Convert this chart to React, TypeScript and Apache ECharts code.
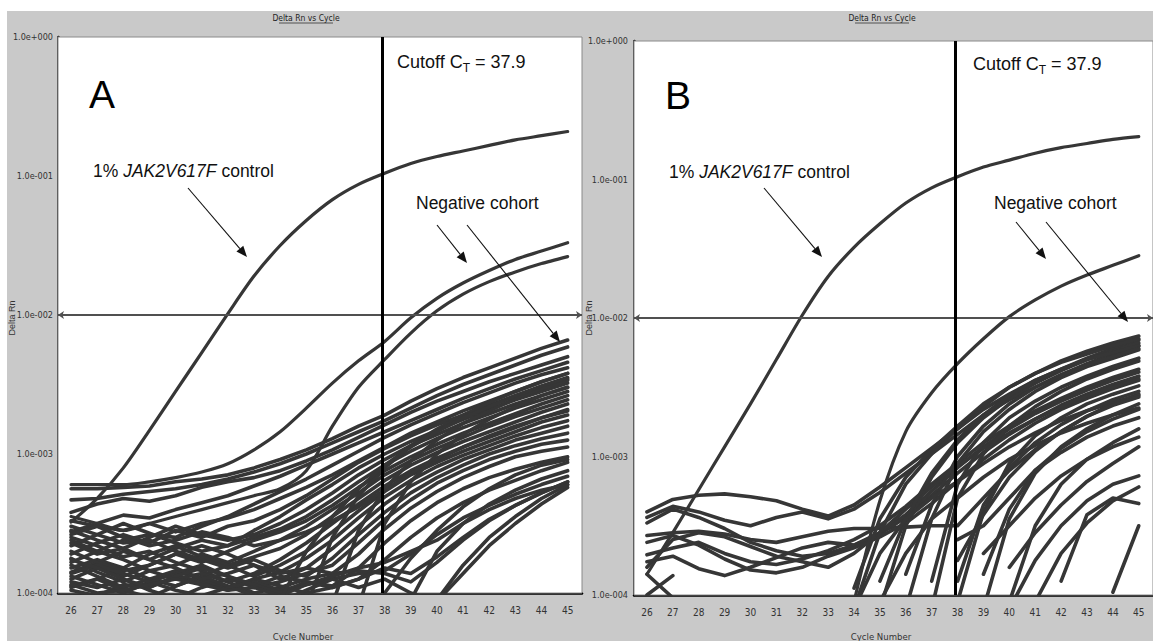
import React, { useEffect, useRef } from "react";
import * as echarts from "echarts";

const _ = null;
type Row = (number | null)[];

// x categories (cycle numbers) and fixed reference values
const cycles = [26, 27, 28, 29, 30, 31, 32, 33, 34, 35, 36, 37, 38, 39, 40, 41, 42, 43, 44, 45];
const cutoffCycle = 37.9;
const thresholdA = 0.0081;
const thresholdB = 0.0081;
const yMin = 1e-4;
const yMax = 1;

// All curves: log10(Delta Rn), one value per cycle 26..45 (null = not drawn)
const controlA: Row = [-3.49, -3.32, -3.1, -2.83, -2.55, -2.27, -1.99, -1.72, -1.5, -1.32, -1.17, -1.06, -0.98, -0.91, -0.86, -0.82, -0.78, -0.74, -0.71, -0.68];
const highCohortA: Row[] = [
  [-3.22, -3.22, -3.22, -3.2, -3.17, -3.13, -3.07, -2.97, -2.84, -2.67, -2.49, -2.33, -2.19, -2.02, -1.88, -1.77, -1.68, -1.6, -1.54, -1.48],
  [-3.45, -3.5, -3.55, -3.5, -3.45, -3.4, -3.35, -3.3, -3.25, -3.12, -2.8, -2.52, -2.32, -2.13, -1.97, -1.85, -1.76, -1.69, -1.63, -1.58],
];
const negativeA: Row[] = [
  [-3.25, -3.25, -3.24, -3.23, -3.2, -3.18, -3.15, -3.1, -3.04, -2.97, -2.89, -2.8, -2.72, -2.62, -2.53, -2.45, -2.38, -2.31, -2.24, -2.18],
  [-3.33, -3.32, -3.29, -3.27, -3.25, -3.22, -3.18, -3.13, -3.07, -3.0, -2.92, -2.84, -2.76, -2.67, -2.58, -2.5, -2.43, -2.36, -2.29, -2.23],
  [-3.42, -3.36, -3.32, -3.34, -3.3, -3.24, -3.2, -3.17, -3.12, -3.05, -2.97, -2.88, -2.79, -2.7, -2.62, -2.55, -2.48, -2.42, -2.36, -2.3],
  [-3.56, -3.5, -3.44, -3.46, -3.4, -3.35, -3.3, -3.23, -3.16, -3.08, -3.0, -2.92, -2.84, -2.76, -2.68, -2.6, -2.53, -2.46, -2.4, -2.34],
  [-3.62, -3.7, -3.62, -3.58, -3.6, -3.52, -3.45, -3.36, -3.27, -3.18, -3.08, -2.98, -2.88, -2.79, -2.71, -2.63, -2.56, -2.49, -2.43, -2.38],
  [-3.48, -3.52, -3.55, -3.5, -3.56, -3.5, -3.46, -3.4, -3.32, -3.24, -3.15, -3.05, -2.95, -2.85, -2.77, -2.69, -2.62, -2.55, -2.48, -2.42],
  [-3.72, -3.64, -3.58, -3.64, -3.55, -3.6, -3.52, -3.48, -3.4, -3.3, -3.18, -3.06, -2.96, -2.87, -2.79, -2.72, -2.65, -2.58, -2.52, -2.46],
  [-3.85, -3.78, -3.7, -3.76, -3.68, -3.62, -3.66, -3.55, -3.45, -3.33, -3.22, -3.1, -3.0, -2.91, -2.83, -2.75, -2.68, -2.61, -2.55, -2.49],
  [-3.55, -3.62, -3.68, -3.6, -3.52, -3.58, -3.62, -3.58, -3.5, -3.4, -3.28, -3.15, -3.04, -2.94, -2.86, -2.78, -2.71, -2.64, -2.58, -2.52],
  [-3.66, -3.58, -3.5, -3.57, -3.64, -3.7, -3.66, -3.6, -3.54, -3.45, -3.33, -3.2, -3.08, -2.98, -2.89, -2.81, -2.74, -2.67, -2.61, -2.55],
  [-3.9, -3.82, -3.88, -3.8, -3.72, -3.78, -3.7, -3.62, -3.56, -3.48, -3.37, -3.24, -3.12, -3.02, -2.93, -2.85, -2.78, -2.71, -2.64, -2.58],
  [-3.75, -3.85, -3.92, -3.84, -3.8, -3.72, -3.78, -3.7, -3.62, -3.52, -3.4, -3.28, -3.15, -3.05, -2.96, -2.88, -2.8, -2.73, -2.67, -2.61],
  [-3.95, -3.9, -3.82, -3.9, -3.95, -3.88, -3.8, -3.74, -3.68, -3.58, -3.45, -3.32, -3.19, -3.08, -2.99, -2.91, -2.84, -2.77, -2.7, -2.64],
  [-3.6, -3.66, -3.74, -3.7, -3.78, -3.84, -3.92, -3.86, -3.76, -3.64, -3.5, -3.36, -3.23, -3.12, -3.03, -2.95, -2.88, -2.81, -2.74, -2.68],
  [-3.82, -3.76, -3.82, -3.72, -3.66, -3.74, -3.8, -3.88, -3.8, -3.7, -3.56, -3.41, -3.27, -3.15, -3.06, -2.98, -2.91, -2.84, -2.77, -2.72],
  [-3.98, -4.02, -3.94, -3.96, -3.88, -3.92, -3.98, -3.9, -3.85, -3.75, -3.62, -3.46, -3.31, -3.19, -3.09, -3.01, -2.94, -2.87, -2.81, -2.76],
  [-3.7, -3.78, -3.84, -3.8, -3.72, -3.66, -3.72, -3.8, -3.9, -3.82, -3.68, -3.52, -3.36, -3.23, -3.13, -3.04, -2.97, -2.9, -2.85, -2.8],
  [-3.52, -3.58, -3.64, -3.62, -3.7, -3.76, -3.82, -3.76, -3.84, -3.88, -3.75, -3.58, -3.42, -3.28, -3.17, -3.08, -3.0, -2.94, -2.89, -2.85],
  [-3.88, -3.94, -4.0, -3.92, -3.86, -3.8, -3.88, -3.96, -3.92, -3.86, -3.8, -3.64, -3.47, -3.33, -3.21, -3.12, -3.04, -2.98, -2.93, -2.9],
  [-3.78, -3.7, -3.76, -3.84, -3.9, -3.86, -3.92, -4.0, -3.96, -3.9, -3.86, -3.72, -3.54, -3.39, -3.27, -3.17, -3.09, -3.02, -2.98, -2.95],
  [-3.92, -3.96, -3.9, -3.98, -4.04, -3.96, -3.9, -3.95, -3.88, -3.92, -3.95, -3.82, -3.64, -3.48, -3.35, -3.25, -3.17, -3.11, -3.06, -3.02],
  [-3.8, -3.88, -3.96, -3.9, -3.84, -3.9, -3.96, -3.9, -3.95, -4.0, -3.96, -3.9, -3.76, -3.6, -3.46, -3.35, -3.26, -3.19, -3.12, -3.06],
  [-3.96, -3.9, -3.98, -4.03, -3.95, -3.88, -3.95, -4.02, -4.06, -3.98, -3.9, -3.86, -3.84, -3.72, -3.58, -3.46, -3.37, -3.29, -3.22, -3.16],
  [-3.64, -3.72, -3.68, -3.76, -3.82, -3.9, -3.86, -3.8, -3.86, -3.82, -3.86, -3.84, -3.86, -3.92, -3.78, -3.62, -3.48, -3.37, -3.28, -3.2],
  [-3.86, -3.8, -3.86, -3.92, -3.98, -4.02, -3.96, -3.92, -3.98, -3.94, -3.9, -3.96, -3.9, -4.0, -4.06, -3.86, -3.66, -3.5, -3.36, -3.24],
  [-3.76, -3.82, -3.9, -3.96, -3.88, -3.82, -3.88, -3.94, -4.0, -3.92, -3.96, -3.9, -3.82, -3.86, -3.74, -3.6, -3.47, -3.37, -3.28, -3.2],
  [-3.94, -4.0, -3.98, -3.94, -3.9, -3.94, -3.98, -3.96, -4.02, -3.94, -3.88, -3.82, -3.78, -3.7, -3.62, -3.5, -3.4, -3.32, -3.26, -3.22],
  [-3.58, -3.52, -3.6, -3.66, -3.62, -3.56, -3.6, -3.66, -3.62, -3.56, -3.48, -3.38, -3.26, -3.14, -3.04, -2.95, -2.87, -2.8, -2.74, -2.69],
  [_, _, _, _, _, _, _, _, _, -4.1, -3.6, -3.3, -3.1, -2.94, -2.82, -2.72, -2.63, -2.55, -2.48, -2.42],
  [_, _, _, _, _, _, _, _, _, _, -4.08, -3.55, -3.25, -3.05, -2.9, -2.78, -2.69, -2.6, -2.53, -2.47],
  [_, _, _, _, _, _, _, _, _, _, _, -4.1, -3.5, -3.2, -3.0, -2.86, -2.75, -2.66, -2.58, -2.52],
  [_, _, _, _, _, _, _, _, -4.05, -3.7, -3.45, -3.25, -3.08, -2.95, -2.84, -2.74, -2.66, -2.58, -2.51, -2.45],
  [_, _, _, _, _, _, _, _, _, _, _, _, _, -4.05, -3.7, -3.5, -3.36, -3.26, -3.18, -3.12],
  [_, _, _, _, _, _, _, _, _, _, _, _, _, _, -4.05, -3.8, -3.6, -3.45, -3.32, -3.22],
  [_, _, _, _, _, _, _, _, _, _, _, _, -4.0, -3.75, -3.55, -3.38, -3.25, -3.15, -3.08, -3.04],
];

const controlB: Row = [-3.85, -3.55, -3.24, -2.93, -2.62, -2.3, -1.98, -1.7, -1.49, -1.32, -1.17, -1.06, -0.98, -0.91, -0.86, -0.81, -0.77, -0.74, -0.71, -0.69];
const highCohortB: Row[] = [
  [_, _, _, _, _, _, _, _, -4.05, -3.32, -2.82, -2.54, -2.33, -2.15, -1.99, -1.87, -1.77, -1.69, -1.62, -1.55],
];
const negativeB: Row[] = [
  [-3.4, -3.31, -3.28, -3.27, -3.29, -3.32, -3.38, -3.43, -3.35, -3.22, -3.08, -2.94, -2.8, -2.66, -2.55, -2.45, -2.37, -2.29, -2.22, -2.16],
  [-3.44, -3.36, -3.4, -3.46, -3.5, -3.44, -3.4, -3.45, -3.38, -3.26, -3.12, -2.98, -2.84, -2.7, -2.59, -2.5, -2.41, -2.33, -2.26, -2.2],
  [-3.57, -3.55, -3.54, -3.56, -3.6, -3.62, -3.58, -3.54, -3.52, -3.52, -3.51, -3.5, -3.5, -3.3, -3.1, -2.95, -2.82, -2.71, -2.62, -2.55],
  [-3.71, -3.66, -3.62, -3.7, -3.76, -3.78, -3.74, -3.68, -3.6, -3.5, -3.36, -3.2, -3.05, -2.9, -2.78, -2.67, -2.58, -2.5, -2.43, -2.37],
  [-3.76, -3.72, -3.81, -3.86, -3.8, -3.73, -3.66, -3.62, -3.64, -3.56, -3.44, -3.28, -3.12, -2.97, -2.84, -2.73, -2.63, -2.55, -2.48, -2.42],
  [-3.48, -3.38, -3.44, -3.52, -3.62, -3.68, -3.72, -3.7, -3.64, -3.55, -3.42, -3.25, -3.08, -2.93, -2.8, -2.69, -2.6, -2.52, -2.45, -2.39],
  [-3.62, -3.57, -3.64, -3.74, -3.82, -3.84, -3.8, -3.72, -3.66, -3.58, -3.48, -3.34, -3.18, -3.02, -2.88, -2.76, -2.66, -2.58, -2.51, -2.45],
  [-3.8, -3.6, -3.55, -3.58, -3.65, -3.72, -3.76, -3.8, -3.7, -3.55, -3.38, -3.22, -3.07, -2.94, -2.83, -2.73, -2.64, -2.56, -2.5, -2.44],
  [-3.85, -4.02, _, _, _, _, _, _, _, _, _, _, _, _, _, _, _, _, _, _],
  [-4.0, -3.86, _, _, _, _, _, _, _, _, _, _, _, _, _, _, _, _, _, _],
  [_, _, _, _, _, _, _, _, -4.1, -3.55, -3.2, -2.98, -2.8, -2.64, -2.5, -2.4, -2.31, -2.24, -2.18, -2.13],
  [_, _, _, _, _, _, _, _, -3.95, -3.45, -3.15, -2.95, -2.78, -2.62, -2.5, -2.4, -2.32, -2.26, -2.2, -2.15],
  [_, _, _, _, _, _, _, _, _, -4.1, -3.5, -3.15, -2.9, -2.72, -2.58, -2.47, -2.38, -2.3, -2.24, -2.18],
  [_, _, _, _, _, _, _, _, _, -3.9, -3.45, -3.12, -2.88, -2.7, -2.56, -2.45, -2.37, -2.3, -2.25, -2.2],
  [_, _, _, _, _, _, _, _, _, _, -4.1, -3.45, -3.05, -2.82, -2.66, -2.53, -2.43, -2.35, -2.29, -2.23],
  [_, _, _, _, _, _, _, _, _, _, -3.85, -3.35, -3.0, -2.78, -2.62, -2.5, -2.41, -2.34, -2.28, -2.22],
  [_, _, _, _, _, _, _, _, _, _, _, -4.1, -3.3, -2.98, -2.78, -2.64, -2.53, -2.44, -2.37, -2.31],
  [_, _, _, _, _, _, _, _, _, _, _, -3.9, -3.2, -2.9, -2.72, -2.6, -2.5, -2.42, -2.35, -2.29],
  [_, _, _, _, _, _, _, _, -4.1, -3.7, -3.45, -3.3, -3.18, -3.05, -2.93, -2.83, -2.74, -2.67, -2.61, -2.56],
  [_, _, _, _, _, _, _, _, _, -4.05, -3.7, -3.45, -3.3, -3.15, -3.02, -2.92, -2.83, -2.76, -2.7, -2.65],
  [_, _, _, _, _, _, _, _, _, _, _, _, -4.05, -3.4, -3.05, -2.85, -2.72, -2.62, -2.55, -2.49],
  [_, _, _, _, _, _, _, _, _, _, _, _, -3.9, -3.35, -3.08, -2.9, -2.77, -2.67, -2.59, -2.53],
  [_, _, _, _, _, _, _, _, _, _, _, _, -3.75, -3.42, -3.15, -2.96, -2.82, -2.71, -2.63, -2.57],
  [_, _, _, _, _, _, _, _, _, _, _, _, _, -4.1, -3.45, -3.12, -2.93, -2.8, -2.7, -2.62],
  [_, _, _, _, _, _, _, _, _, _, _, _, _, -3.85, -3.38, -3.1, -2.94, -2.82, -2.73, -2.66],
  [_, _, _, _, _, _, _, _, _, _, _, _, -3.6, -3.5, -3.3, -3.1, -2.97, -2.86, -2.78, -2.72],
  [_, _, _, _, _, _, _, _, _, _, _, _, _, _, -4.05, -3.5, -3.2, -3.02, -2.9, -2.8],
  [_, _, _, _, _, _, _, _, _, _, _, _, _, -3.7, -3.5, -3.3, -3.14, -3.02, -2.93, -2.86],
  [_, _, _, _, _, _, _, _, _, _, _, _, _, _, -3.8, -3.55, -3.35, -3.18, -3.05, -2.93],
  [_, _, _, _, _, _, _, _, _, _, _, _, _, _, -4.1, -3.75, -3.5, -3.32, -3.2, -3.14],
  [_, _, _, _, _, _, _, _, _, _, _, _, _, _, _, -4.05, -3.7, -3.48, -3.32, -3.22],
  [_, _, _, _, _, _, _, _, _, _, _, _, _, _, _, _, -3.9, -3.42, -3.3, -3.34],
  [_, _, _, _, _, _, _, _, _, _, _, _, _, _, _, _, _, _, -3.98, -3.5],
];

const SANS = "'Liberation Sans', Arial, Helvetica, sans-serif";
const NARROW = "'Liberation Sans Narrow', 'DejaVu Sans Condensed', 'Liberation Sans', sans-serif";
const LINE_COLOR = "#363636";

function toPoints(row: Row): number[][] {
  const out: number[][] = [];
  row.forEach((v, i) => {
    if (v !== null) out.push([cycles[i], Math.pow(10, v)]);
  });
  return out;
}

function yLabel(v: number): string {
  const e = Math.round(Math.log10(v));
  const s = String(Math.abs(e)).padStart(3, "0");
  return "1.0e" + (e >= 0 ? "+" : "-") + s;
}

function arrow(x1: number, y1: number, x2: number, y2: number, head = 11, half = 4.5): any[] {
  const dx = x2 - x1;
  const dy = y2 - y1;
  const L = Math.hypot(dx, dy);
  const ux = dx / L;
  const uy = dy / L;
  const bx = x2 - ux * head;
  const by = y2 - uy * head;
  return [
    { type: "line", z: 100, shape: { x1, y1, x2: bx, y2: by }, style: { stroke: "#111", lineWidth: 1.1 } },
    {
      type: "polygon",
      z: 100,
      shape: { points: [[x2, y2], [bx - uy * half, by + ux * half], [bx + uy * half, by - ux * half]] },
      style: { fill: "#111" },
    },
  ];
}

function text(x: number, y: number, content: string, style: any, extra: any = {}): any {
  return {
    type: "text",
    x,
    y,
    z: 100,
    ...extra,
    style: {
      text: content,
      fill: "#111",
      align: "left",
      verticalAlign: "middle",
      textAlign: "left",
      textVerticalAlign: "middle",
      ...style,
    },
  };
}

function panelGraphics(p: {
  letter: string; letterX: number; letterY: number;
  cutX: number; cutY: number; ctrlX: number; ctrlY: number; negX: number; negY: number;
  titleX: number; yNameX: number; xNameX: number;
  arrows: number[][];
}): any[] {
  const g: any[] = [];
  g.push(text(p.letterX, p.letterY, p.letter, { fontSize: 39, fontFamily: SANS, fill: "#000" }));
  g.push(
    text(p.cutX, p.cutY, "{a|Cutoff C}{s|T}{a| = 37.9}", {
      rich: {
        a: { fontSize: 18, fontFamily: SANS, lineHeight: 24, fill: "#111" },
        s: { fontSize: 12, fontFamily: SANS, lineHeight: 14, verticalAlign: "bottom", fill: "#111" },
      },
    })
  );
  g.push(
    text(p.ctrlX, p.ctrlY, "{a|1% }{i|JAK2V617F}{a| control}", {
      rich: {
        a: { fontSize: 17.5, fontFamily: SANS, fill: "#111" },
        i: { fontSize: 17.5, fontFamily: SANS, fontStyle: "italic", fill: "#111" },
      },
    })
  );
  g.push(text(p.negX, p.negY, "Negative cohort", { fontSize: 17.5, fontFamily: SANS }));
  p.arrows.forEach((a) => g.push(...arrow(a[0], a[1], a[2], a[3])));
  // title with underline
  g.push(text(p.titleX, 18, "Delta Rn vs Cycle", { fontSize: 8.5, fontFamily: NARROW, fill: "#222", align: "center", textAlign: "center" }));
  g.push({ type: "line", z: 100, shape: { x1: p.titleX - 27, y1: 23, x2: p.titleX + 27, y2: 23 }, style: { stroke: "#333", lineWidth: 0.8 } });
  g.push(
    text(p.yNameX, 318, "Delta Rn", { fontSize: 9, fontFamily: SANS, fill: "#333", align: "center", textAlign: "center" }, { rotation: Math.PI / 2 })
  );
  g.push(text(p.xNameX, 636, "Cycle Number", { fontSize: 9.5, fontFamily: NARROW, fill: "#333", align: "center", textAlign: "center" }));
  return g;
}

export default function App() {
  const ref = useRef<HTMLDivElement>(null);

  useEffect(() => {
    if (!ref.current) return;
    const chart = echarts.init(ref.current, undefined, { renderer: "svg" });

    const grids = [
      { left: 58, top: 37, width: 524, height: 556 },
      { left: 634, top: 41, width: 524, height: 554 },
    ].map((g) => ({ ...g, show: true, backgroundColor: "#ffffff", borderColor: "#8a8a8a", borderWidth: 1, z: 1 }));

    const xAxes = [0, 1].map((i) => ({
      type: "value",
      gridIndex: i,
      min: 25.5,
      max: 45.55,
      axisLine: { show: true, onZero: false, lineStyle: { color: "#000", width: 2.5 } },
      axisTick: { show: false, customValues: cycles },
      axisLabel: { show: true, customValues: cycles, margin: 12, fontSize: 10, fontFamily: NARROW, color: "#333" },
      splitLine: { show: true, lineStyle: { color: "#c2c2c2", width: 1 } },
    }));

    const yAxes = [0, 1].map((i) => ({
      type: "log",
      logBase: 10,
      gridIndex: i,
      min: yMin,
      max: yMax,
      axisLine: { show: true, onZero: false, lineStyle: { color: "#000", width: 2.5 } },
      axisTick: { show: false },
      axisLabel: { formatter: yLabel, margin: i === 0 ? 5 : 6, fontSize: 9, fontFamily: NARROW, color: "#333" },
      splitLine: { show: true, lineStyle: { color: "#a9a9a9", width: 1 } },
    }));

    const series: any[] = [];
    const addLine = (row: Row, panel: number, width: number, extra: any = {}) => {
      series.push({
        type: "line",
        xAxisIndex: panel,
        yAxisIndex: panel,
        data: toPoints(row),
        showSymbol: false,
        symbol: "none",
        silent: true,
        clip: true,
        z: 3,
        lineStyle: { color: LINE_COLOR, width, join: "round", cap: "round" },
        ...extra,
      });
    };

    [negativeA, negativeB].forEach((rows, panel) => rows.forEach((r) => addLine(r, panel, 3.6)));
    [highCohortA, highCohortB].forEach((rows, panel) =>
      rows.forEach((r, k) =>
        addLine(r, panel, 3.2, {
          smooth: 0.3,
          ...(k === 0
            ? {
                markLine: {
                  silent: true,
                  symbol: ["arrow", "arrow"],
                  symbolSize: 6,
                  label: { show: false },
                  lineStyle: { color: "#505050", width: 2, type: "solid" },
                  data: [{ yAxis: panel === 0 ? thresholdA : thresholdB }],
                },
              }
            : {}),
        })
      )
    );
    [controlA, controlB].forEach((r, panel) =>
      addLine(r, panel, 3.2, {
        smooth: 0.3,
        markLine: {
          silent: true,
          symbol: ["none", "none"],
          label: { show: false },
          lineStyle: { color: "#000", width: 3, type: "solid" },
          data: [{ xAxis: cutoffCycle }],
        },
      })
    );

    const graphics: any[] = [
      { type: "rect", z: -100, shape: { x: 7, y: 11, width: 1146, height: 630 }, style: { fill: "#c9c9c9" } },
      ...panelGraphics({
        letter: "A", letterX: 89, letterY: 94, cutX: 397, cutY: 62, ctrlX: 93, ctrlY: 171, negX: 416, negY: 203,
        titleX: 306, yNameX: 12, xNameX: 303,
        arrows: [[188, 188, 247, 257], [437, 225, 467, 263], [467, 225, 560, 342]],
      }),
      ...panelGraphics({
        letter: "B", letterX: 665, letterY: 95, cutX: 973, cutY: 64, ctrlX: 669, ctrlY: 172, negX: 994, negY: 203,
        titleX: 882, yNameX: 589, xNameX: 881,
        arrows: [[764, 188, 822, 257], [1016, 222, 1046, 259], [1046, 222, 1128, 322]],
      }),
    ];

    chart.setOption({
      animation: false,
      backgroundColor: "#ffffff",
      grid: grids,
      xAxis: xAxes,
      yAxis: yAxes,
      series,
      graphic: { elements: graphics },
    });

    return () => chart.dispose();
  }, []);

  return (
    <div
      ref={ref}
      style={{ position: "absolute", left: 0, top: 0, width: 1153, height: 641 }}
    />
  );
}
